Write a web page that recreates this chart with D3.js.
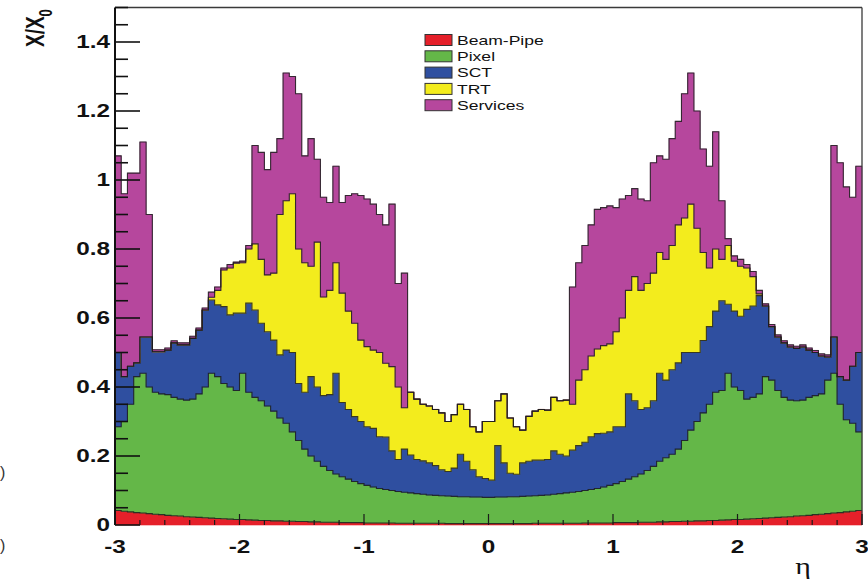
<!DOCTYPE html>
<html>
<head>
<meta charset="utf-8">
<script src="https://cdn.jsdelivr.net/npm/d3@7"></script>
<style>
  html, body { margin: 0; padding: 0; background: #fff; }
  svg { display: block; }
</style>
</head>
<body>
<svg id="chart" width="868" height="583"></svg>
<script>
// Material in the inner detector, in radiation lengths, versus pseudorapidity.
// 120 bins of width 0.05 between eta = -3 and eta = 3; each array is the
// contribution of one sub-system (stacked bottom to top).
const etaRange = [-3, 3];
const nBins = 120;

const beamPipe = [
  .042,.040,.038,.036,.035,.033,.031,.030,.028,.027,.026,.024,.023,.022,.021,.020,.019,.018,.017,.016,
  .016,.015,.014,.013,.013,.012,.012,.011,.011,.010,.010,.009,.009,.008,.008,.008,.007,.007,.007,.007,
  .006,.006,.006,.006,.006,.005,.005,.005,.005,.005,.005,.005,.005,.004,.004,.004,.004,.004,.004,.004,
  .004,.004,.004,.004,.004,.004,.004,.005,.005,.005,.005,.005,.005,.005,.005,.006,.006,.006,.006,.006,
  .007,.007,.007,.007,.008,.008,.008,.009,.009,.010,.010,.011,.011,.012,.012,.013,.013,.014,.015,.016,
  .016,.017,.018,.019,.020,.021,.022,.023,.024,.026,.027,.028,.030,.031,.033,.035,.036,.038,.040,.042
];

const pixel = [
  .243,.260,.312,.394,.405,.367,.354,.350,.350,.343,.339,.338,.342,.358,.379,.420,.411,.392,.383,.374,
  .424,.370,.356,.347,.332,.318,.298,.284,.259,.235,.210,.191,.176,.162,.150,.140,.133,.126,.119,.113,
  .109,.104,.100,.097,.094,.092,.090,.088,.086,.084,.082,.081,.080,.080,.079,.078,.078,.077,.077,.076,
  .076,.077,.077,.078,.078,.079,.080,.080,.081,.082,.084,.086,.088,.090,.092,.094,.097,.100,.104,.109,
  .113,.119,.126,.133,.140,.150,.162,.176,.186,.195,.210,.234,.264,.288,.313,.337,.372,.376,.425,.384,
  .374,.348,.352,.361,.410,.399,.368,.347,.338,.334,.335,.342,.345,.349,.387,.405,.314,.267,.255,.228
];

const sct = [
  .215,.130,.110,.040,.105,.145,.117,.122,.129,.158,.157,.160,.176,.185,.223,.212,.208,.223,.209,.224,
  .174,.258,.253,.225,.215,.206,.183,.212,.230,.165,.165,.230,.215,.205,.220,.292,.215,.202,.188,.180,
  .170,.170,.150,.152,.115,.093,.125,.110,.099,.097,.093,.086,.075,.071,.082,.123,.103,.079,.059,.055,
  .050,.149,.099,.068,.065,.097,.101,.103,.102,.103,.126,.114,.107,.122,.133,.140,.153,.159,.156,.155,
  .165,.159,.247,.220,.187,.182,.190,.255,.225,.245,.250,.255,.225,.200,.210,.225,.235,.260,.200,.220,
  .215,.260,.265,.285,.205,.155,.155,.158,.154,.152,.154,.137,.125,.110,.067,.105,.080,.115,.165,.230
];

const trt = [
  0,0,0,0,0,0,0,0,0,0,0,0,0,0,0,.008,.042,.106,.136,.145,
  .146,.157,.192,.185,.165,.194,.407,.433,.460,.390,.375,.320,.420,.286,.302,.320,.317,.285,.271,.236,
  .232,.227,.244,.214,.244,.210,.120,.182,.175,.164,.165,.163,.165,.145,.155,.145,.150,.125,.130,.165,
  .170,.130,.200,.160,.138,.095,.130,.142,.147,.143,.155,.155,.162,.133,.190,.210,.234,.245,.254,.255,
  .275,.315,.300,.360,.345,.360,.370,.350,.350,.360,.400,.390,.430,.360,.255,.170,.180,.120,.170,.145,
  .145,.120,.085,.005,0,0,0,0,0,0,0,0,0,0,0,0,0,0,0,0
];

const services = [
  .570,.530,.560,.550,.565,.355,.006,.006,.006,.006,.006,.006,.006,.006,.006,.015,.010,.006,.010,.003,
  .005,.010,.285,.310,.305,.350,.220,.370,.340,.450,.310,.370,.240,.289,.255,.280,.263,.335,.375,.419,
  .428,.423,.400,.401,.471,.300,.390,0,0,0,0,0,0,0,0,0,0,0,0,0,
  0,0,0,0,0,0,0,0,0,0,0,0,0,.340,.340,.360,.380,.405,.400,.400,
  .360,.345,.275,.255,.265,.240,.320,.280,.290,.310,.300,.360,.380,.340,.300,.295,.340,.170,.020,.015,
  .020,.010,.015,.010,.006,.006,.006,.006,.006,.006,.006,.006,.006,.006,.006,.555,.620,.560,.490,.540
];

const layerNames  = ["Beam-Pipe", "Pixel", "SCT", "TRT", "Services"];
const layerValues = [beamPipe, pixel, sct, trt, services];
const layerColors = ["#e5202a", "#64b748", "#2f4fa0", "#f3ec1d", "#b6479d"];

const xTickLabels = ["-3", "-2", "-1", "0", "1", "2", "3"];
const yTickLabels = ["0", "0.2", "0.4", "0.6", "0.8", "1", "1.2", "1.4"];
const yMax = 1.5;

// ---------------------------------------------------------------------------
const svg = d3.select("#chart");
const plot = { left: 115, right: 862, top: 7.5, bottom: 525 };

const x = d3.scaleLinear().domain(etaRange).range([plot.left, plot.right]);
const y = d3.scaleLinear().domain([0, yMax]).range([plot.bottom, plot.top]);

const binW = (etaRange[1] - etaRange[0]) / nBins;
const rows = d3.range(nBins).map(i => {
  const r = { lo: etaRange[0] + i * binW, hi: etaRange[0] + (i + 1) * binW };
  layerNames.forEach((k, j) => { r[k] = layerValues[j][i] || 0; });
  return r;
});

const stacked = d3.stack().keys(layerNames)(rows);

// Turn each stacked layer into step-shaped histogram outlines.
const stepPoints = layer => layer.flatMap(d => [
  { e: d.data.lo, y0: d[0], y1: d[1] },
  { e: d.data.hi, y0: d[0], y1: d[1] }
]);

const area = d3.area()
  .x(p => x(p.e))
  .y0(p => y(p.y0))
  .y1(p => y(p.y1));

const topLine = d3.line()
  .x(p => x(p.e))
  .y(p => y(p.y1));

const gData = svg.append("g");
stacked.forEach((layer, j) => {
  gData.append("path")
    .attr("d", area(stepPoints(layer)))
    .attr("fill", layerColors[j])
    .attr("stroke", layerColors[j])
    .attr("stroke-width", 0.6);
});
stacked.forEach(layer => {
  gData.append("path")
    .attr("d", topLine(stepPoints(layer)))
    .attr("fill", "none")
    .attr("stroke", "#1c1c1c")
    .attr("stroke-width", 1.1)
    .attr("stroke-opacity", 0.85);
});

// ---------------------------------------------------------------------------
// Frame
const gAxes = svg.append("g");
gAxes.append("line")
  .attr("x1", plot.left).attr("x2", plot.right)
  .attr("y1", plot.top).attr("y2", plot.top)
  .attr("stroke", "#3a3a3a").attr("stroke-width", 1.3);
gAxes.append("line")
  .attr("x1", plot.right).attr("x2", plot.right)
  .attr("y1", plot.top).attr("y2", plot.bottom)
  .attr("stroke", "#3a3a3a").attr("stroke-width", 1.3);
gAxes.append("line")
  .attr("x1", plot.left).attr("x2", plot.left)
  .attr("y1", plot.top).attr("y2", plot.bottom)
  .attr("stroke", "#111").attr("stroke-width", 2);

// Y ticks (inside the frame): minor every 0.05, major every 0.2
const yMinor = d3.range(0, yMax + 1e-9, 0.05);
gAxes.selectAll(".ytick").data(yMinor).join("line")
  .attr("x1", plot.left)
  .attr("x2", v => plot.left + (Math.abs(v / 0.2 - Math.round(v / 0.2)) < 1e-6 ? 25 : 13))
  .attr("y1", v => y(v)).attr("y2", v => y(v))
  .attr("stroke", "#111").attr("stroke-width", 1.6);

// X ticks (inside the frame): minor every 0.2, major every 1
const xMinor = d3.range(etaRange[0], etaRange[1] + 1e-9, 0.2);
gAxes.selectAll(".xtick").data(xMinor).join("line")
  .attr("x1", v => x(v)).attr("x2", v => x(v))
  .attr("y1", plot.bottom)
  .attr("y2", v => plot.bottom - (Math.abs(v - Math.round(v)) < 1e-6 ? 11 : 5))
  .attr("stroke", "#1a1a1a").attr("stroke-width", 1.2);

// Tick labels (bold, horizontally wide)
yTickLabels.forEach(t => {
  svg.append("g")
    .attr("transform", `translate(${plot.left - 5},${y(+t)}) scale(1.35,1)`)
    .append("text")
    .attr("text-anchor", "end")
    .attr("dy", "0.36em")
    .attr("font-family", "Liberation Sans, Arial, sans-serif")
    .attr("font-weight", "bold")
    .attr("font-size", 18)
    .attr("fill", "#111")
    .text(t);
});
xTickLabels.forEach(t => {
  svg.append("g")
    .attr("transform", `translate(${x(+t)},547) scale(1.35,1)`)
    .append("text")
    .attr("text-anchor", "middle")
    .attr("dy", "0.36em")
    .attr("font-family", "Liberation Sans, Arial, sans-serif")
    .attr("font-weight", "bold")
    .attr("font-size", 18)
    .attr("fill", "#111")
    .text(t);
});

// Axis titles
svg.append("g")
  .attr("transform", "translate(803,574) scale(1.3,1)")
  .append("text")
  .attr("text-anchor", "middle")
  .attr("font-family", "Liberation Serif, serif")
  .attr("font-size", 23)
  .attr("fill", "#111")
  .text("η");

const yTitle = svg.append("g")
  .attr("transform", "translate(44,47) rotate(-90) scale(1,1.4)")
  .append("text")
  .attr("font-family", "Liberation Sans, Arial, sans-serif")
  .attr("font-weight", "bold")
  .attr("font-size", 19)
  .attr("fill", "#111");
yTitle.append("tspan").text("X/X");
yTitle.append("tspan").attr("dy", 6).attr("font-size", 13).text("0");

// Legend
const legend = svg.append("g").attr("transform", "translate(425,40)");
layerNames.forEach((name, j) => {
  const row = legend.append("g").attr("transform", `translate(0,${j * 16.3})`);
  row.append("rect")
    .attr("x", 0).attr("y", -5.5)
    .attr("width", 27).attr("height", 11)
    .attr("fill", layerColors[j])
    .attr("stroke", "#333").attr("stroke-width", 1);
  row.append("g")
    .attr("transform", "translate(32,0) scale(1.35,1)")
    .append("text")
    .attr("dy", "0.36em")
    .attr("font-family", "Liberation Sans, Arial, sans-serif")
    .attr("font-size", 13)
    .attr("fill", "#111")
    .text(name);
});

// Small brackets at the left page edge
[[478, ")"], [551, ")"]].forEach(([yy, ch]) => {
  svg.append("text")
    .attr("x", 0).attr("y", yy)
    .attr("font-family", "Liberation Sans, Arial, sans-serif")
    .attr("font-size", 16)
    .attr("fill", "#333")
    .text(ch);
});
</script>
</body>
</html>
